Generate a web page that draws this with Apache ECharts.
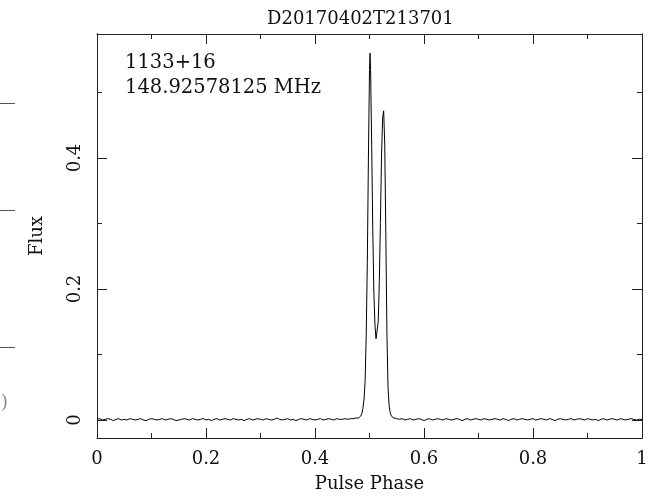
<!DOCTYPE html>
<html>
<head>
<meta charset="utf-8">
<script src="https://cdn.jsdelivr.net/npm/echarts@6/dist/echarts.min.js"></script>
<style>
  html, body { margin: 0; padding: 0; background: #fff; }
  #chart-container { width: 665px; height: 498px; }
</style>
</head>
<body>
<div id="chart-container"></div>
<script>
var dom = document.getElementById("chart-container");
var myChart = echarts.init(dom, null, { renderer: "canvas" });

const titleText = "D20170402T213701";
const sourceName = "1133+16";
const freqText = "148.92578125 MHz";

// pulse phase / flux
const phase = [
  0.000, 0.005, 0.010, 0.015, 0.020, 0.025, 0.030, 0.035, 0.040, 0.045,
  0.050, 0.055, 0.060, 0.065, 0.070, 0.075, 0.080, 0.085, 0.090, 0.095,
  0.100, 0.105, 0.110, 0.115, 0.120, 0.125, 0.130, 0.135, 0.140, 0.145,
  0.150, 0.155, 0.160, 0.165, 0.170, 0.175, 0.180, 0.185, 0.190, 0.195,
  0.200, 0.205, 0.210, 0.215, 0.220, 0.225, 0.230, 0.235, 0.240, 0.245,
  0.250, 0.255, 0.260, 0.265, 0.270, 0.275, 0.280, 0.285, 0.290, 0.295,
  0.300, 0.305, 0.310, 0.315, 0.320, 0.325, 0.330, 0.335, 0.340, 0.345,
  0.350, 0.355, 0.360, 0.365, 0.370, 0.375, 0.380, 0.385, 0.390, 0.395,
  0.400, 0.405, 0.410, 0.415, 0.420, 0.425, 0.430, 0.435, 0.440, 0.445,
  0.450, 0.455, 0.460, 0.465, 0.470, 0.475, 0.480,
  0.482, 0.484, 0.486, 0.488, 0.490, 0.492, 0.494, 0.496, 0.498, 0.500,
  0.501, 0.502, 0.504, 0.506, 0.508, 0.510, 0.512, 0.513, 0.514, 0.516,
  0.518, 0.520, 0.522, 0.524, 0.526, 0.528, 0.530, 0.532, 0.534, 0.536,
  0.538, 0.540, 0.542, 0.545,
  0.550, 0.555, 0.560, 0.565, 0.570, 0.575, 0.580, 0.585, 0.590, 0.595,
  0.600, 0.605, 0.610, 0.615, 0.620, 0.625, 0.630, 0.635, 0.640, 0.645,
  0.650, 0.655, 0.660, 0.665, 0.670, 0.675, 0.680, 0.685, 0.690, 0.695,
  0.700, 0.705, 0.710, 0.715, 0.720, 0.725, 0.730, 0.735, 0.740, 0.745,
  0.750, 0.755, 0.760, 0.765, 0.770, 0.775, 0.780, 0.785, 0.790, 0.795,
  0.800, 0.805, 0.810, 0.815, 0.820, 0.825, 0.830, 0.835, 0.840, 0.845,
  0.850, 0.855, 0.860, 0.865, 0.870, 0.875, 0.880, 0.885, 0.890, 0.895,
  0.900, 0.905, 0.910, 0.915, 0.920, 0.925, 0.930, 0.935, 0.940, 0.945,
  0.950, 0.955, 0.960, 0.965, 0.970, 0.975, 0.980, 0.985, 0.990, 0.995,
  1.000
];
const flux = [
  0.001, 0.002, 0.000, 0.001, 0.002, 0.001, -0.001, 0.001, 0.002, 0.000,
  0.001, 0.000, 0.002, 0.001, 0.000, 0.001, 0.002, 0.000, -0.001, 0.001,
  0.002, 0.001, 0.000, 0.001, 0.002, 0.000, 0.001, 0.002, 0.001, -0.001,
  0.000, 0.001, 0.002, 0.001, 0.000, 0.002, 0.001, 0.000, 0.001, 0.002,
  0.000, 0.001, -0.001, 0.001, 0.002, 0.000, 0.001, 0.002, 0.001, 0.000,
  0.002, 0.001, 0.000, 0.001, -0.001, 0.001, 0.002, 0.000, 0.001, 0.002,
  0.001, 0.000, 0.002, 0.001, 0.000, 0.001, 0.003, 0.001, 0.000, 0.001,
  0.002, 0.000, 0.001, -0.001, 0.001, 0.002, 0.001, 0.000, 0.002, 0.001,
  0.000, 0.001, 0.002, 0.000, 0.001, 0.002, 0.001, 0.000, 0.002, 0.001,
  0.001, 0.002, 0.001, 0.002, 0.002, 0.003, 0.003,
  0.004, 0.006, 0.010, 0.018, 0.032, 0.060, 0.130, 0.240, 0.400, 0.535,
  0.560, 0.535, 0.420, 0.290, 0.195, 0.145, 0.124, 0.121, 0.124, 0.150,
  0.210, 0.300, 0.400, 0.460, 0.472, 0.420, 0.280, 0.130, 0.050, 0.022,
  0.011, 0.006, 0.004, 0.003,
  0.002, 0.001, 0.002, 0.000, 0.001, 0.002, 0.000, 0.001, 0.002, 0.001,
  -0.001, 0.001, 0.002, 0.000, 0.001, 0.002, 0.001, 0.000, 0.002, 0.001,
  0.000, 0.001, 0.002, 0.001, -0.001, 0.001, 0.002, 0.000, 0.001, 0.002,
  0.001, 0.000, 0.002, 0.001, 0.000, 0.001, 0.002, 0.001, 0.000, 0.002,
  0.001, -0.001, 0.001, 0.002, 0.000, 0.001, 0.002, 0.001, 0.000, 0.001,
  0.002, 0.000, 0.001, 0.002, 0.001, 0.000, 0.002, 0.001, -0.001, 0.001,
  0.002, 0.001, 0.000, 0.001, 0.002, 0.000, 0.001, 0.002, 0.001, 0.000,
  0.002, 0.001, 0.000, 0.001, -0.001, 0.001, 0.002, 0.000, 0.001, 0.002,
  0.001, 0.000, 0.002, 0.001, 0.000, 0.001, 0.002, 0.001, 0.000, 0.001,
  0.001
];

const yMajor = [0, 0.2, 0.4];
const yMinor = [0.1, 0.3, 0.5];
const yMin = -0.0275;
const yMax = 0.5893;

const font = "DejaVu Serif";
const ink = "#111";
const frame = { show: true, onZero: false, lineStyle: { color: "#222", width: 1 } };

const profile = phase.map((p, i) => [p, flux[i]]);

function xAxisCfg(pos, labels) {
  return {
    type: "value",
    position: pos,
    min: 0,
    max: 1,
    interval: 0.2,
    axisLine: frame,
    axisTick: { show: true, inside: true, length: 10, lineStyle: { color: "#222" } },
    minorTick: { show: true, splitNumber: 2, length: 5, lineStyle: { color: "#222" } },
    splitLine: { show: false },
    minorSplitLine: { show: false },
    axisLabel: {
      show: labels,
      margin: 12,
      fontFamily: font,
      fontSize: 18,
      color: ink,
      formatter: (v) => String(Math.round(v * 10) / 10),
    },
  };
}

function yAxisCfg(pos, vals, len, labels) {
  return {
    type: "value",
    position: pos,
    min: yMin,
    max: yMax,
    axisLine: frame,
    axisTick: { show: true, inside: true, length: len, customValues: vals, lineStyle: { color: "#222" } },
    splitLine: { show: false },
    axisLabel: {
      show: labels,
      customValues: vals,
      rotate: 90,
      margin: 13,
      fontFamily: font,
      fontSize: 18,
      color: ink,
      formatter: (v) => String(Math.round(v * 10) / 10),
    },
  };
}

var option = {
  animation: false,
  backgroundColor: "#fff",
  title: {
    text: titleText,
    left: 262,
    top: 5,
    textStyle: { fontFamily: font, fontSize: 18, fontWeight: "normal", color: ink },
  },
  grid: { left: 97, right: 23, top: 34, bottom: 60 },
  xAxis: [
    Object.assign(xAxisCfg("bottom", true), {
      name: "Pulse Phase",
      nameLocation: "middle",
      nameGap: 37,
      nameTextStyle: { fontFamily: font, fontSize: 18, color: ink },
    }),
    xAxisCfg("top", false),
  ],
  yAxis: [
    Object.assign(yAxisCfg("left", yMajor, 10, true), {
      name: "Flux",
      nameLocation: "middle",
      nameRotate: 90,
      nameGap: 51,
      nameTextStyle: { fontFamily: font, fontSize: 18, color: ink },
    }),
    yAxisCfg("left", yMinor, 5, false),
    yAxisCfg("right", yMajor, 10, false),
    yAxisCfg("right", yMinor, 5, false),
  ],
  graphic: [
    {
      type: "text",
      left: 125,
      top: 53,
      style: { text: sourceName, font: "19.5px " + font, fill: ink },
    },
    {
      type: "text",
      left: 125,
      top: 78,
      style: { text: freqText, font: "19.5px " + font, fill: ink },
    },
    // remnants of a neighbouring panel at the left edge
    { type: "line", shape: { x1: 0, y1: 103.5, x2: 15, y2: 103.5 }, style: { stroke: "#555", lineWidth: 1 } },
    { type: "line", shape: { x1: 0, y1: 210.5, x2: 15, y2: 210.5 }, style: { stroke: "#555", lineWidth: 1 } },
    { type: "line", shape: { x1: 0, y1: 347.5, x2: 15, y2: 347.5 }, style: { stroke: "#555", lineWidth: 1 } },
    {
      type: "text",
      left: 1,
      top: 394,
      style: { text: ")", font: "18px " + font, fill: "#888" },
    },
  ],
  series: [
    {
      type: "line",
      xAxisIndex: 0,
      yAxisIndex: 0,
      data: profile,
      showSymbol: false,
      symbol: "none",
      lineStyle: { color: "#000", width: 1 },
    },
  ],
};

myChart.setOption(option);
window.addEventListener("resize", myChart.resize);
</script>
</body>
</html>
